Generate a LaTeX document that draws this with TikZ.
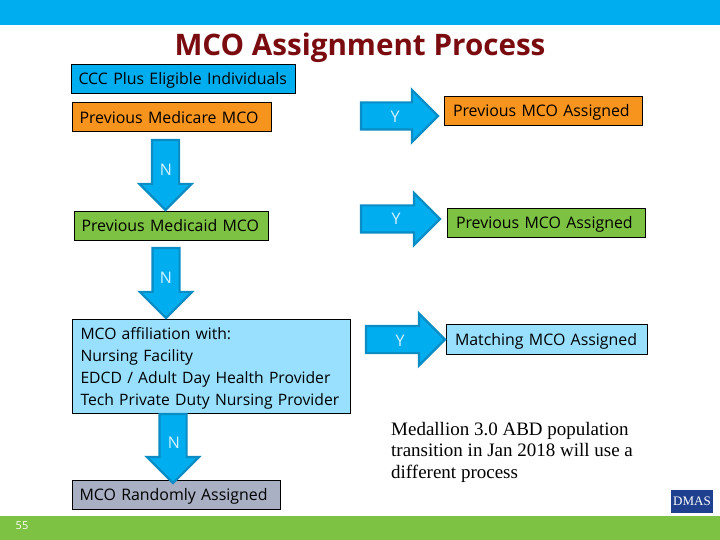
\documentclass[tikz,border=0pt]{standalone}
\usepackage{fontspec}
\setmainfont{Open Sans}
\newfontfamily\notefont{Liberation Serif}
\usetikzlibrary{shapes.arrows}
\definecolor{topblue}{HTML}{00ADEF}
\definecolor{arrowedge}{HTML}{0A8CC4}
\definecolor{footgreen}{HTML}{7DC242}
\definecolor{boxorange}{HTML}{F7941E}
\definecolor{boxsky}{HTML}{99E0FF}
\definecolor{boxgray}{HTML}{A9B0C4}
\definecolor{titlered}{HTML}{7A0C10}
\definecolor{logoblue}{HTML}{1F3F8F}
\tikzset{
	box/.style={draw=black,anchor=north west,inner xsep=7pt,inner ysep=0pt,outer sep=0pt,align=left,text depth=0pt,font=\fontsize{15.9}{22}\selectfont},
	blockarrow/.style={single arrow,draw=arrowedge,fill=topblue,line width=2.2pt,anchor=tip,inner xsep=0pt,inner ysep=12.5pt,outer sep=0pt,single arrow head extend=12.5pt},
	downarrow/.style={blockarrow,shape border rotate=270,inner xsep=12.5pt,inner ysep=0pt},
	arrowtext/.style={text=white!85!topblue,font=\fontsize{16}{18}\selectfont}
}
\begin{document}
\begin{tikzpicture}[x=1pt,y=-1pt]
	\useasboundingbox (0,0) rectangle (720,540);
	
	\fill[topblue] (0,0) rectangle (720,25);
	\fill[footgreen] (0,516) rectangle (720,540);
	
	\node[text=titlered,font=\fontsize{29.6}{32}\selectfont\bfseries] (title) at (360,48) {MCO Assignment Process};
	
	% left column
	\node[box,fill=topblue,text width=210pt,minimum height=28.5pt] (eligible) at (71.5,64.5) {CCC Plus Eligible Individuals};
	\node[box,fill=boxorange,text width=185pt,minimum height=29pt] (medicare) at (72.5,102.5) {Previous Medicare MCO};
	\node[box,fill=footgreen,text width=180pt,minimum height=29pt] (medicaid) at (74.5,211) {Previous Medicaid MCO};
	\node[box,fill=boxsky,inner xsep=8pt,text width=262pt,text depth=66pt,minimum height=94.5pt,font=\fontsize{15.7}{22}\selectfont] (affiliation) at (72.5,319) {MCO affiliation with:\\Nursing Facility\\EDCD / Adult Day Health Provider\\Tech Private Duty Nursing Provider};
	\node[box,fill=boxgray,text width=194pt,minimum height=29pt] (randomly) at (72.5,480) {MCO Randomly Assigned};
	
	% right column
	\node[box,fill=boxorange,inner xsep=9pt,text width=180pt,minimum height=29pt] (assigned1) at (444,96) {Previous MCO Assigned};
	\node[box,fill=footgreen,inner xsep=9pt,text width=180.5pt,minimum height=29pt] (assigned2) at (447,208) {Previous MCO Assigned};
	\node[box,fill=boxsky,inner xsep=9pt,text width=183.5pt,minimum height=30pt] (assigned3) at (446,324) {Matching MCO Assigned};
	
	\foreach \n/\x/\y/\len in {1/165.5/210/70,2/166/318/70,3/173/483/69}
	{
		\node[downarrow,minimum height=\len pt] (down\n) at (\x,\y) {};
	}
	\foreach \n/\x/\y/\len in {1/438/116/77,2/440/219/79,3/445/339.5/79}
	{
		\node[blockarrow,minimum height=\len pt] (right\n) at (\x,\y) {};
	}
	
	\node[arrowtext] (no1) at (166,170) {N};
	\node[arrowtext] (no2) at (166,278) {N};
	\node[arrowtext] (no3) at (174,443) {N};
	\node[arrowtext] (yes1) at (395,117) {Y};
	\node[arrowtext] (yes2) at (396,219) {Y};
	\node[arrowtext] (yes3) at (400,341) {Y};
	
	\node[anchor=north west,inner sep=0pt,align=left,font=\notefont\fontsize{19}{21.6}\selectfont] (note) at (391,422) {Medallion 3.0 ABD population\\transition in Jan 2018 will use a\\different process};
	
	\node[text=white,font=\fontsize{11}{12}\selectfont] (page) at (22,526) {55};
	
	\node[fill=logoblue,text=white,minimum width=42pt,minimum height=23pt,inner sep=0pt,font=\notefont\fontsize{13}{14}\selectfont] (logo) at (692,501) {DMAS};
\end{tikzpicture}
\end{document}
